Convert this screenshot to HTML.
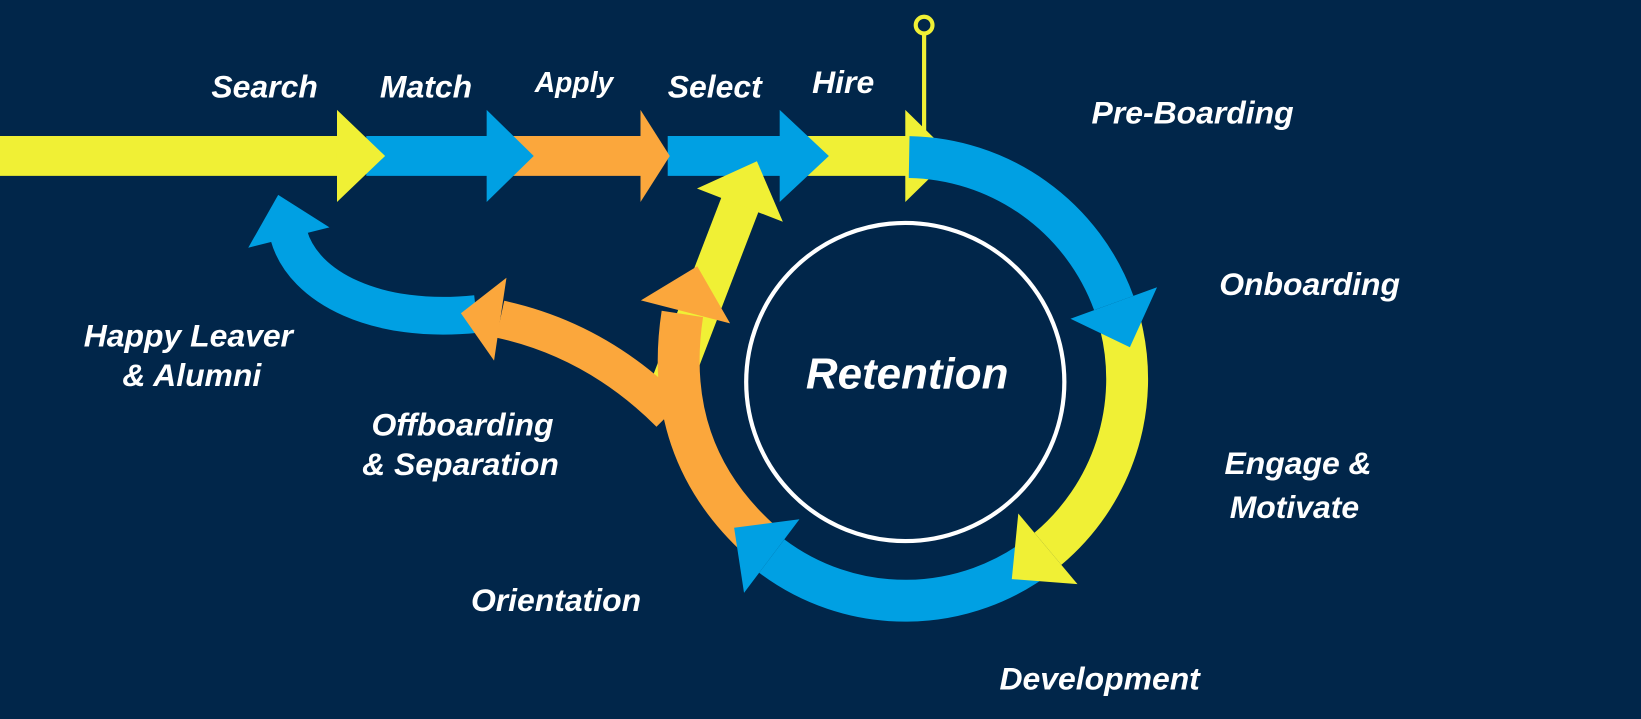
<!DOCTYPE html>
<html><head><meta charset="utf-8"><style>
html,body{margin:0;padding:0;background:#01264a;}
svg{display:block}
text{font-family:"Liberation Sans",sans-serif;font-weight:bold;font-style:italic;fill:#fff;font-size:30.5px}
</style></head><body>
<svg id="s" width="1641" height="719" viewBox="0 0 1568 687" preserveAspectRatio="none" xmlns="http://www.w3.org/2000/svg">
<rect width="1568" height="687" fill="#01264a"/>
<g id="g"></g>
<circle cx="865" cy="365" r="152" fill="none" stroke="#fff" stroke-width="4"/>
<line x1="883" y1="32" x2="883" y2="128" stroke="#f0f035" stroke-width="4"/>
<circle cx="883" cy="24" r="8" fill="none" stroke="#f0f035" stroke-width="4"/>
<text x="202" y="93">Search</text>
<text x="363" y="93">Match</text>
<text x="511" y="88" style="font-size:27px">Apply</text>
<text x="638" y="93">Select</text>
<text x="776" y="89">Hire</text>
<text x="1043" y="118">Pre-Boarding</text>
<text x="1165" y="282">Onboarding</text>
<text x="80" y="331">Happy Leaver</text>
<text x="117" y="369">&amp; Alumni</text>
<text x="355" y="416">Offboarding</text>
<text x="346" y="454">&amp; Separation</text>
<text x="1170" y="453">Engage &amp;</text>
<text x="1175" y="495">Motivate</text>
<text x="450" y="584">Orientation</text>
<text x="955" y="659">Development</text>
<text x="770" y="371" style="font-size:42px">Retention</text>
</svg>
<script>
var Y="#f0f035",B="#00a0e3",O="#fba73c";
var g=document.getElementById('g'),NS="http://www.w3.org/2000/svg";
function el(t,a){var e=document.createElementNS(NS,t);for(var k in a)e.setAttribute(k,a[k]);g.appendChild(e);return e;}
function head(x,y,dx,dy,c,w,l){var n=Math.hypot(dx,dy);dx/=n;dy/=n;var px=-dy,py=dx;
 el('polygon',{points:[x+px*w,y+py*w,x+dx*l,y+dy*l,x-px*w,y-py*w].join(' '),fill:c});}
function band(d,c,w){el('path',{d:d,fill:'none',stroke:c,'stroke-width':w});}
var cx=865,cy=362,R=212;
function pt(a,r){a=a*Math.PI/180;return [cx+r*Math.cos(a),cy+r*Math.sin(a)];}
function arc(a0,a1,c,la){var p0=pt(a0,R),p1=pt(a1,R);
 band('M'+p0+' A'+R+' '+R+' 0 0 1 '+p1,c,40);
 var r=a1*Math.PI/180;head(p1[0],p1[1],-Math.sin(r),Math.cos(r),c,44,la||45);}
band('M770 149 H870',Y,38);head(865,149,1,0,Y,44,45);
band('M638 149 H750',B,38);head(745,149,1,0,B,44,47);
band('M490 149 H615',O,38);head(612,149,1,0,O,44,28);
band('M350 149 H470',B,38);head(465,149,1,0,B,44,45);
band('M0 149 H325',Y,38);head(322,149,1,0,Y,44,46);
band('M640 370 L708 193',Y,38);head(707,196,0.36,-0.93,Y,44,45);
band('M455 300 C360 310 290 275 276 225',B,36);head(276,227,-0.25,-1,B,40,42);
band('M640 395 Q570 325 478 305',O,36);head(478,305,-1,-0.15,O,40,38);
band('M725 515 Q632 430 652 300',O,40);head(655,298,0.25,-0.97,O,44,45);
arc(52,127,B);
arc(-14,50,Y);
arc(-89,-20,B);
</script>
</body></html>
